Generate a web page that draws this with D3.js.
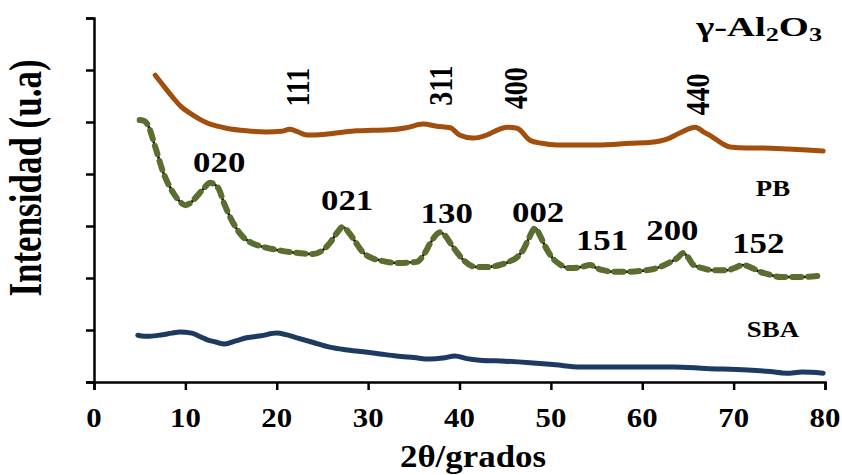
<!DOCTYPE html>
<html>
<head>
<meta charset="utf-8">
<script src="https://cdn.jsdelivr.net/npm/d3@7"></script>
<style>
  body { margin: 0; background: #fff; }
  text { font-family: "Liberation Serif", "Times New Roman", serif; font-weight: bold; fill: #000; }
</style>
</head>
<body>
<svg id="chart" width="842" height="475"></svg>
<script>
// 2θ (deg) / intensity (a.u.)
const alX = [6.7, 7.5, 8.6, 9.5, 10.5, 11.5, 12.4, 13.5, 14.5, 16.7, 18.9, 20.5, 21.4, 22.2, 23.3, 25.1, 27, 28.7, 30.5, 32.4, 34.2, 36.0, 37.5, 39.0, 40.0, 41.5, 43.0, 44.2, 45.2, 46.3, 47.7, 49, 50.7, 53, 55.0, 58.7, 61, 62.7, 64.1, 65.8, 66.8, 67.7, 68.8, 69.6, 71.5, 73.2, 76, 78, 79.8];
const alY = [5.90, 5.72, 5.48, 5.30, 5.17, 5.06, 4.98, 4.92, 4.88, 4.83, 4.81, 4.82, 4.86, 4.82, 4.75, 4.76, 4.80, 4.83, 4.84, 4.85, 4.89, 4.96, 4.92, 4.89, 4.75, 4.69, 4.75, 4.85, 4.90, 4.88, 4.65, 4.59, 4.56, 4.56, 4.56, 4.59, 4.61, 4.67, 4.79, 4.90, 4.80, 4.71, 4.58, 4.52, 4.50, 4.50, 4.48, 4.46, 4.44];

const pbX = [5.0, 5.5, 5.9, 6.7, 7.6, 8.7, 9.4, 10.0, 10.6, 11.2, 12.0, 12.7, 13.6, 14.2, 14.9, 15.6, 16.3, 17.3, 18.5, 20, 21.4, 23, 24.0, 25, 25.8, 26.6, 27.2, 28.0, 28.7, 29.4, 30.2, 31.5, 33.1, 35.3, 36.2, 36.8, 37.9, 38.5, 39.0, 39.7, 40.4, 41.9, 43, 44.4, 45.5, 46.3, 47.0, 47.5, 48.3, 48.8, 49.2, 50.2, 51, 52.1, 53.3, 54.3, 55.0, 55.7, 57, 58.3, 60, 61.6, 62.8, 63.8, 64.5, 65.0, 65.6, 66.6, 67.7, 69.3, 70.2, 71.0, 71.8, 72.9, 74, 75.1, 77.3, 79.2];
const pbY = [5.04, 5.02, 4.94, 4.52, 4.02, 3.63, 3.47, 3.40, 3.45, 3.56, 3.72, 3.83, 3.73, 3.45, 3.17, 2.95, 2.79, 2.67, 2.60, 2.54, 2.50, 2.47, 2.46, 2.53, 2.67, 2.87, 2.98, 2.85, 2.67, 2.50, 2.40, 2.33, 2.29, 2.31, 2.48, 2.67, 2.88, 2.80, 2.67, 2.50, 2.35, 2.21, 2.21, 2.25, 2.32, 2.40, 2.55, 2.73, 2.96, 2.82, 2.67, 2.38, 2.26, 2.19, 2.21, 2.25, 2.19, 2.15, 2.12, 2.12, 2.14, 2.19, 2.28, 2.38, 2.48, 2.40, 2.25, 2.19, 2.15, 2.15, 2.20, 2.25, 2.21, 2.12, 2.06, 2.02, 2.02, 2.04];

const sbaX = [4.8, 5.5, 6.1, 7.5, 8.5, 9.4, 10.7, 11.5, 12.4, 13.3, 14.3, 15.5, 16.7, 18.3, 20.0, 21, 22.2, 24, 25.8, 27.5, 29.5, 31.3, 33.1, 35, 36.8, 38.2, 39.5, 40.8, 42.2, 45, 47.7, 50.5, 53.2, 56, 60, 63.4, 67, 71.5, 74, 75.8, 77.5, 79.8];
const sbaY = [0.90, 0.88, 0.88, 0.91, 0.94, 0.96, 0.94, 0.88, 0.81, 0.77, 0.73, 0.79, 0.85, 0.89, 0.94, 0.91, 0.85, 0.76, 0.67, 0.62, 0.58, 0.54, 0.50, 0.47, 0.44, 0.46, 0.50, 0.45, 0.42, 0.40, 0.37, 0.33, 0.29, 0.29, 0.29, 0.29, 0.26, 0.23, 0.20, 0.17, 0.19, 0.17];

const xTicks = [0, 10, 20, 30, 40, 50, 60, 70, 80];
const yTicks = [0, 1, 2, 3, 4, 5, 6, 7];

// reflection labels: [text, x (deg), y (a.u.)]
const alPeaks = [["111", 23.5, 5.67], ["311", 39.2, 5.70], ["400", 47.4, 5.65], ["440", 67.3, 5.53]];
const pbPeaks = [["020", 13.7, 4.04], ["021", 27.7, 3.30], ["130", 38.6, 3.05], ["002", 48.6, 3.08], ["151", 55.6, 2.54], ["200", 63.3, 2.73], ["152", 72.7, 2.48]];
const seriesNames = [["PB", 74.3, 3.58], ["SBA", 74.3, 0.87]];

const svg = d3.select("#chart");
const x = d3.scaleLinear().domain([0, 80]).range([94, 825]);
const y = d3.scaleLinear().domain([0, 7]).range([382, 18]);

// axes
const xAxis = svg.append("g")
    .attr("transform", `translate(0,${y(0)})`)
    .call(d3.axisBottom(x).tickValues(xTicks).tickSize(8).tickFormat(""));
const yAxis = svg.append("g")
    .attr("transform", `translate(${x(0)},0)`)
    .call(d3.axisLeft(y).tickValues(yTicks).tickSize(8).tickFormat(""));
[xAxis, yAxis].forEach(a => {
    a.selectAll("path").attr("stroke", "#000").attr("stroke-width", 2.5);
    a.selectAll("line").attr("stroke", "#000").attr("stroke-width", 2.5);
});

// tick labels (the original's text is a bit stretched sideways)
svg.selectAll("text.xt")
    .data(xTicks)
    .enter()
    .append("text")
    .attr("class", "xt")
    .attr("transform", d => `translate(${x(d)},427) scale(1.1,1)`)
    .attr("text-anchor", "middle")
    .attr("font-size", "28px")
    .text(d => d);

svg.append("text")
    .attr("transform", `translate(473,467) scale(1.09,1)`)
    .attr("text-anchor", "middle")
    .attr("font-size", "32px")
    .text("2θ/grados");

svg.append("text")
    .attr("transform", `translate(41,178) scale(1.33,1) rotate(-90)`)
    .attr("text-anchor", "middle")
    .attr("font-size", "35px")
    .text("Intensidad (u.a)");

// curves
const line = (xs, ys) => d3.line()
    .x(i => x(xs[i]))
    .y(i => y(ys[i]))
    .curve(d3.curveMonotoneX)(d3.range(xs.length));

svg.append("path")
    .attr("d", line(alX, alY))
    .attr("fill", "none")
    .attr("stroke", "#A24E0D")
    .attr("stroke-width", 5)
    .attr("stroke-linejoin", "round")
    .attr("stroke-linecap", "round");

svg.append("path")
    .attr("d", line(pbX, pbY))
    .attr("fill", "none")
    .attr("stroke", "#000")
    .attr("stroke-width", 2.5);
svg.append("path")
    .attr("d", line(pbX, pbY))
    .attr("fill", "none")
    .attr("stroke", "#5A6E30")
    .attr("stroke-width", 6)
    .attr("stroke-dasharray", "9,7")
    .attr("stroke-linecap", "round");

svg.append("path")
    .attr("d", line(sbaX, sbaY))
    .attr("fill", "none")
    .attr("stroke", "#1D3A62")
    .attr("stroke-width", 5)
    .attr("stroke-linejoin", "round")
    .attr("stroke-linecap", "round");

// labels
svg.selectAll("text.al")
    .data(alPeaks)
    .enter()
    .append("text")
    .attr("class", "al")
    .attr("transform", d => `translate(${x(d[1])},${y(d[2])}) scale(1.2,1) rotate(-90)`)
    .attr("text-anchor", "middle")
    .attr("font-size", "28px")
    .text(d => d[0]);

svg.selectAll("text.pb")
    .data(pbPeaks)
    .enter()
    .append("text")
    .attr("class", "pb")
    .attr("transform", d => `translate(${x(d[1])},${y(d[2])}) scale(1.2,1)`)
    .attr("text-anchor", "middle")
    .attr("font-size", "29px")
    .text(d => d[0]);

svg.selectAll("text.sn")
    .data(seriesNames)
    .enter()
    .append("text")
    .attr("class", "sn")
    .attr("transform", d => `translate(${x(d[1])},${y(d[2])}) scale(1.12,1)`)
    .attr("text-anchor", "middle")
    .attr("font-size", "24px")
    .text(d => d[0]);

const t = svg.append("text")
    .attr("transform", `translate(822,36) scale(1.38,1)`)
    .attr("text-anchor", "end")
    .attr("font-size", "28px");
t.append("tspan").text("γ-Al");
t.append("tspan").attr("font-size", "19px").attr("dy", 5).text("2");
t.append("tspan").attr("dy", -5).text("O");
t.append("tspan").attr("font-size", "19px").attr("dy", 5).text("3");
</script>
</body>
</html>
